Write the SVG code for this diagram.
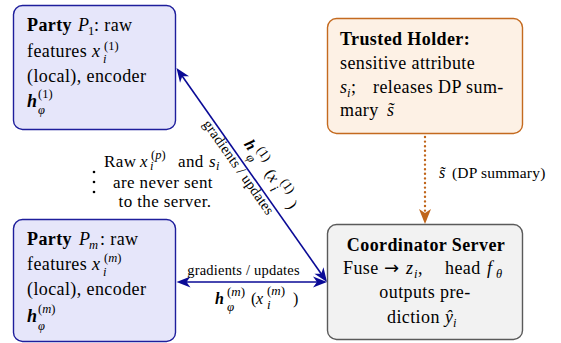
<svg xmlns="http://www.w3.org/2000/svg" width="561" height="343" viewBox="0 0 561 343">
<style>
.t{font-family:"Liberation Serif","Times New Roman",serif;font-size:18px;letter-spacing:0.4px;fill:#000}
.mid{font-size:17px}
.lab{font-family:"Liberation Serif","Times New Roman",serif;font-size:14.5px;letter-spacing:0.2px;fill:#000}
.hl{font-family:"Liberation Serif","Times New Roman",serif;font-size:16px;fill:#000}
.b{font-weight:bold}
.i{font-style:italic}
.sc{font-size:12.5px;letter-spacing:0}
.ss{font-size:13px;letter-spacing:0}
.arr{font-family:"DejaVu Sans",sans-serif;font-size:18px;letter-spacing:0}
.party{fill:#E6E6FA;stroke:#1E1E9C;stroke-width:1.4}
.trust{fill:#FDF1E5;stroke:#C46A1F;stroke-width:1.4}
.serv{fill:#F2F2F2;stroke:#5A5A5A;stroke-width:1.4}
.blue{fill:none;stroke:#0A0A96;stroke-width:1.6}
.dot{fill:none;stroke:#C0651A;stroke-width:2.4;stroke-linecap:round;stroke-dasharray:0 4.6}
</style>
<defs>
<marker id="ah" viewBox="-15 -6 16 12" refX="-4" refY="0" markerWidth="16" markerHeight="12" markerUnits="userSpaceOnUse" orient="auto-start-reverse">
<path d="M0,0 L-14,-5.5 L-10,0 L-14,5.5 Z" fill="#0A0A96"/>
</marker>
<marker id="oh" viewBox="-16 -7 17 14" refX="-3" refY="0" markerWidth="17" markerHeight="14" markerUnits="userSpaceOnUse" orient="auto">
<path d="M0,0 L-15,-6 L-11,0 L-15,6 Z" fill="#C0651A"/>
</marker>
</defs>

<g id="connectors">
<path class="blue" d="M178.8,71.3 L324.7,278.7" marker-start="url(#ah)" marker-end="url(#ah)"/>
<path class="blue" d="M180.5,282 L323,282" marker-start="url(#ah)" marker-end="url(#ah)"/>
<path class="dot" d="M425,137 L425,220"/>
<path d="M425,134 L425,221" stroke="none" fill="none" marker-end="url(#oh)"/>
<text class="lab" x="243.5" y="275" text-anchor="middle">gradients / updates</text>
<text class="hl"><tspan x="215" y="304" class="b i">h</tspan><tspan x="227" y="296" class="ss">(<tspan class="i">m</tspan>)</tspan><tspan x="227" y="311" class="ss i">φ</tspan><tspan x="251" y="304">(</tspan><tspan x="256" class="i">x</tspan><tspan x="267" y="295" class="ss">(<tspan class="i">m</tspan>)</tspan><tspan x="267" y="309" class="ss i">i</tspan><tspan x="293" y="304">)</tspan></text>
<g transform="translate(176.5,68) rotate(54.88)">
<text class="lab" x="117" y="11" text-anchor="middle">gradients / updates</text>
<text class="hl"><tspan x="101" y="-11" class="b i">h</tspan><tspan x="113" y="-18" class="ss">(1)</tspan><tspan x="113" y="-5" class="ss i">φ</tspan><tspan x="137" y="-11">(</tspan><tspan x="142" class="i">x</tspan><tspan x="153" y="-19" class="ss">(1)</tspan><tspan x="153" y="-6" class="ss i">i</tspan><tspan x="176" y="-11">)</tspan></text>
</g>
<text class="lab" x="439" y="178"><tspan class="i" font-size="16">s̃</tspan><tspan x="452" font-size="15.5">(DP summary)</tspan></text>
</g>

<g id="party1">
<rect class="party" x="13.5" y="5.5" width="162" height="124" rx="9"/>
<text class="t"><tspan x="27" y="31" class="b">Party</tspan><tspan x="78" class="i">P</tspan><tspan x="88" y="35" class="sc">1</tspan><tspan x="94" y="31">: raw</tspan></text>
<text class="t"><tspan x="27" y="57">features</tspan><tspan x="92" class="i">x</tspan><tspan x="104" y="50" class="sc">(1)</tspan><tspan x="103" y="63" class="sc i">i</tspan></text>
<text class="t" x="27" y="82">(local), encoder</text>
<text class="t"><tspan x="27" y="107" class="b i">h</tspan><tspan x="38" y="98" class="sc">(1)</tspan><tspan x="38" y="114" class="sc i">φ</tspan></text>
</g>

<g id="partym">
<rect class="party" x="13.5" y="219.5" width="162" height="122" rx="9"/>
<text class="t"><tspan x="27" y="245" class="b">Party</tspan><tspan x="79" class="i">P</tspan><tspan x="89" y="249" class="sc i">m</tspan><tspan x="100" y="245">: raw</tspan></text>
<text class="t"><tspan x="27" y="270">features</tspan><tspan x="92" class="i">x</tspan><tspan x="104" y="262" class="sc">(<tspan class="i">m</tspan>)</tspan><tspan x="103" y="276" class="sc i">i</tspan></text>
<text class="t" x="27" y="295">(local), encoder</text>
<text class="t"><tspan x="27" y="322" class="b i">h</tspan><tspan x="38" y="313" class="sc">(<tspan class="i">m</tspan>)</tspan><tspan x="38" y="330" class="sc i">φ</tspan></text>
</g>

<g id="trusted">
<rect class="trust" x="327.5" y="18.5" width="195" height="115" rx="9"/>
<text class="t b" x="340" y="45">Trusted Holder:</text>
<text class="t" x="340" y="69">sensitive attribute</text>
<text class="t"><tspan x="340" y="93" class="i">s</tspan><tspan x="347" y="97" class="sc i">i</tspan><tspan x="351" y="93">;</tspan><tspan x="373">releases DP sum-</tspan></text>
<text class="t"><tspan x="340" y="116">mary</tspan><tspan x="387" class="i">s̃</tspan></text>
</g>

<g id="server">
<rect class="serv" x="327.5" y="224.5" width="195" height="115" rx="9"/>
<text class="t b" x="426" y="251" text-anchor="middle">Coordinator Server</text>
<text class="t"><tspan x="343" y="274">Fuse</tspan><tspan x="384" class="arr">→</tspan><tspan x="406" class="i">z</tspan><tspan x="414" y="278" class="sc i">i</tspan><tspan x="418" y="274">,</tspan><tspan x="445">head</tspan><tspan x="487" class="i">f</tspan><tspan x="496" y="278" class="sc i">θ</tspan></text>
<text class="t" x="425" y="298" text-anchor="middle">outputs pre-</text>
<text class="t"><tspan x="387" y="323">diction</tspan><tspan x="445" class="i">ŷ</tspan><tspan x="453" y="327" class="sc i">i</tspan></text>
</g>

<g id="note">
<circle cx="94" cy="172" r="1.3"/>
<circle cx="94" cy="182" r="1.3"/>
<circle cx="94" cy="192" r="1.3"/>
<text class="t mid"><tspan x="104" y="167">Raw</tspan><tspan x="140" class="i">x</tspan><tspan x="151" y="158.5" class="sc">(<tspan class="i">p</tspan>)</tspan><tspan x="150" y="169.5" class="sc i">i</tspan><tspan x="178" y="167">and</tspan><tspan x="209" class="i">s</tspan><tspan x="216" y="170" class="sc i">i</tspan></text>
<text class="t mid" x="163" y="188" text-anchor="middle">are never sent</text>
<text class="t mid" x="165" y="207" text-anchor="middle">to the server.</text>
</g>
</svg>
